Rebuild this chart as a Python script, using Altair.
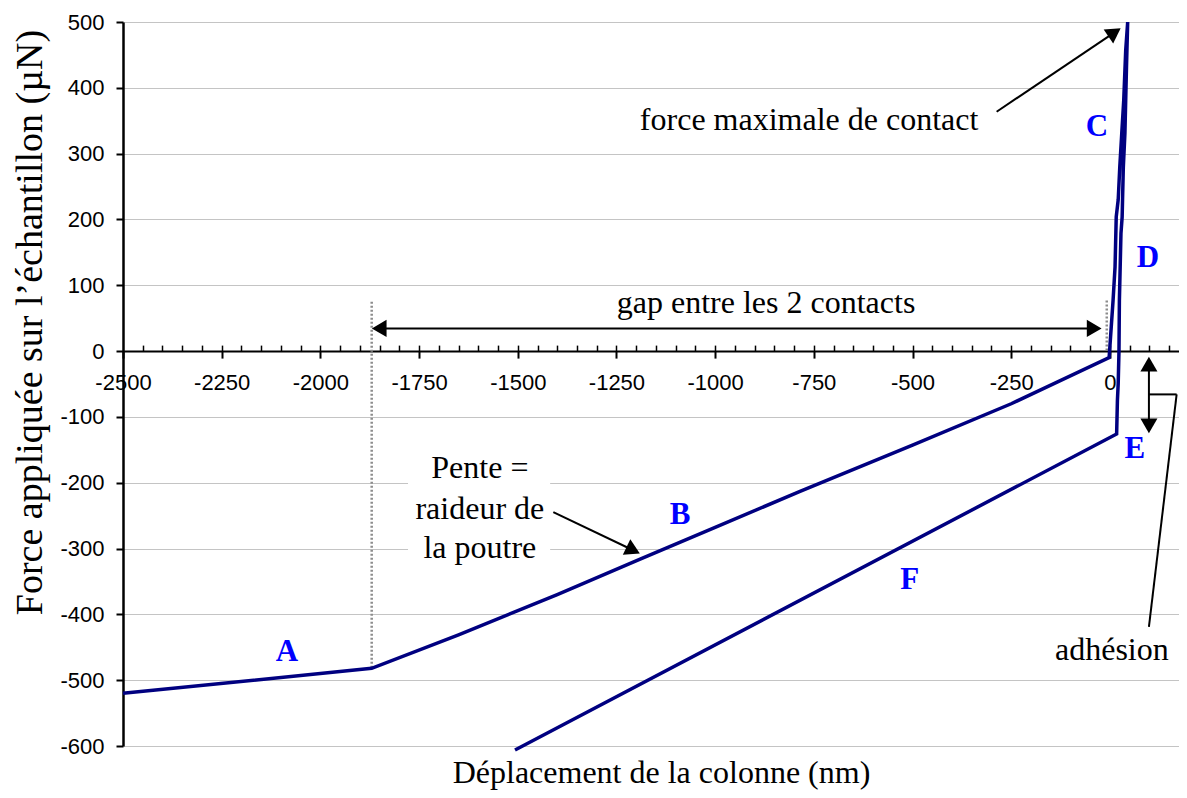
import altair as alt
import pandas as pd

# ---- data ----
curve_x = [-2500, -1870, -1650, -1400, -1190, -1000, -785, -500, -250, -2,
           8, 13, 16, 21, 25, 30, 35, 40, 45,
           42, 38, 34, 32, 31, 28, 24, 23, 21, 19, 17,
           -1507]
curve_y = [-520, -482, -431, -370, -316, -268, -213, -143, -80, -10,
           77, 128, 204, 230, 280, 331, 381, 457, 500,
           432, 331, 280, 230, 204, 179, 77, 0, -49, -75, -126,
           -606]

letters = ["A", "B", "C", "D", "E", "F"]
letter_x = [-2085, -1089, -33, 96, 63, -507]
letter_y = [-457, -249, 340, 141, -148, -348]

note_text = ["force maximale de contact", "gap entre les 2 contacts", "Pente =", "raideur de",
             "la poutre", "adhésion"]
note_x = [-762, -871, -1596, -1596, -1596, 5]
note_y = [351, 73, -178, -240, -299, -454]

# dotted guide lines (x, y from, y to)
dot_x = [-1870, -8]
dot_y1 = [75, 77]
dot_y2 = [-482, 0]

# annotation segments
seg_x1 = [-1851, -287, -1410, 98.8, 98.8, 169]
seg_y1 = [34.5, 363.7, -244.6, -19.9, -65.8, -65.8]
seg_x2 = [-39.8, 11.7, -1207.6, 98.8, 169, 98.8]
seg_y2 = [34.5, 484.2, -302.6, -113.8, -65.8, -419]

# arrow heads
head_x = [-1851, -39.8, 11.7, -1207.6, 98.8, 98.8]
head_y = [34.5, 34.5, 484.2, -302.6, -19.9, -113.8]
head_angle = [270, 90, 56, 116, 0, 180]

# white box behind the "Pente" note
box_x1, box_x2, box_y1, box_y2 = [-1778], [-1418], [-143], [-333]

x_major = list(range(-2500, 1, 250))
x_minor = list(range(-2450, 175, 50))
y_ticks = list(range(-600, 501, 100))

X_DOMAIN = [-2500, 175]
Y_DOMAIN = [-600, 500]
SERIF = "Liberation Serif"
SANS = "Liberation Sans"

curve = pd.DataFrame({"x": curve_x, "y": curve_y, "o": list(range(len(curve_x)))})
lab = pd.DataFrame({"t": letters, "x": letter_x, "y": letter_y})
notes = pd.DataFrame({"t": note_text, "x": note_x, "y": note_y})
dots = pd.DataFrame({"x": dot_x, "y1": dot_y1, "y2": dot_y2})
segs = pd.DataFrame({"x1": seg_x1, "y1": seg_y1, "x2": seg_x2, "y2": seg_y2})
heads = pd.DataFrame({"x": head_x, "y": head_y, "a": head_angle})
box = pd.DataFrame({"x1": box_x1, "x2": box_x2, "y1": box_y1, "y2": box_y2})

xs = alt.Scale(domain=X_DOMAIN, nice=False, zero=False)
ys = alt.Scale(domain=Y_DOMAIN, nice=False, zero=False)

y_axis = alt.Axis(values=y_ticks, tickSize=7, tickWidth=2, tickColor="black",
                  domainColor="black", domainWidth=2.5, gridColor="#c4c4c4", gridWidth=1,
                  labelFont=SANS, labelFontSize=22, labelPadding=12, labelColor="black",
                  labelExpr="'' + datum.value",
                  title="Force appliquée sur l’échantillon (µN)", titleFont=SERIF,
                  titleFontSize=38, titleFontWeight="normal", titleColor="black",
                  titleX=-93, titleY=300, titleAngle=270, titleAlign="center",
                  titleBaseline="middle")

x_axis_main = alt.Axis(orient="bottom", offset=-394.9, values=x_major,
                       labelExpr="'' + datum.value",
                       tickSize=7, tickWidth=2, tickColor="black", domainColor="black",
                       domainWidth=2, labelFont=SANS, labelFontSize=22, labelPadding=14,
                       labelColor="black", labelFlush=False, labelOverlap=False, grid=False,
                       title="Déplacement de la colonne (nm)", titleFont=SERIF,
                       titleFontSize=32, titleFontWeight="normal", titleColor="black",
                       titleX=538, titleY=421, titleAlign="center", titleBaseline="middle")

x_axis_minor = alt.Axis(orient="top", offset=-329.1, values=x_minor, tickSize=6,
                        tickWidth=1.5, tickColor="black", domain=False, labels=False,
                        grid=False, title=None)


def yenc(field):
    return alt.Y(field, scale=ys, axis=y_axis)


box_layer = alt.Chart(box).mark_rect(fill="white").encode(
    x=alt.X("x1:Q", scale=xs, axis=x_axis_minor), x2="x2:Q",
    y=yenc("y1:Q"), y2="y2:Q")

dot_layer = alt.Chart(dots).mark_rule(color="#8c8c8c", strokeWidth=2.5, strokeDash=[2, 2]).encode(
    x=alt.X("x:Q", scale=xs, axis=None),
    y=yenc("y1:Q"), y2="y2:Q")

curve_layer = alt.Chart(curve).mark_line(color="#000080", strokeWidth=3.5).encode(
    x=alt.X("x:Q", scale=xs, axis=x_axis_main),
    y=yenc("y:Q"),
    order="o:Q")

seg_layer = alt.Chart(segs).mark_rule(color="black", strokeWidth=2).encode(
    x=alt.X("x1:Q", scale=xs, axis=None), x2="x2:Q",
    y=yenc("y1:Q"), y2="y2:Q")

head_layer = alt.Chart(heads).mark_point(shape="triangle-up", filled=True, color="black",
                                         size=290, opacity=1).encode(
    x=alt.X("x:Q", scale=xs, axis=None),
    y=yenc("y:Q"),
    angle=alt.Angle("a:Q", scale=None))

letter_layer = alt.Chart(lab).mark_text(font=SERIF, fontSize=31, fontWeight="bold",
                                        color="#0000ff", align="center", baseline="middle").encode(
    x=alt.X("x:Q", scale=xs, axis=None),
    y=yenc("y:Q"),
    text="t:N")

note_layer = alt.Chart(notes).mark_text(font=SERIF, fontSize=32, color="black",
                                        align="center", baseline="middle").encode(
    x=alt.X("x:Q", scale=xs, axis=None),
    y=yenc("y:Q"),
    text="t:N")

chart = alt.layer(box_layer, dot_layer, curve_layer, seg_layer, head_layer,
                  letter_layer, note_layer).resolve_axis(x="independent").properties(
    width=1056, height=724,
    padding={"left": 115, "top": 14, "right": 0, "bottom": 44},
    autosize=alt.AutoSizeParams(type="none"),
    background="white",
).configure_view(stroke=None)

chart.save("out.html", embed_options={"renderer": "svg", "actions": False})
